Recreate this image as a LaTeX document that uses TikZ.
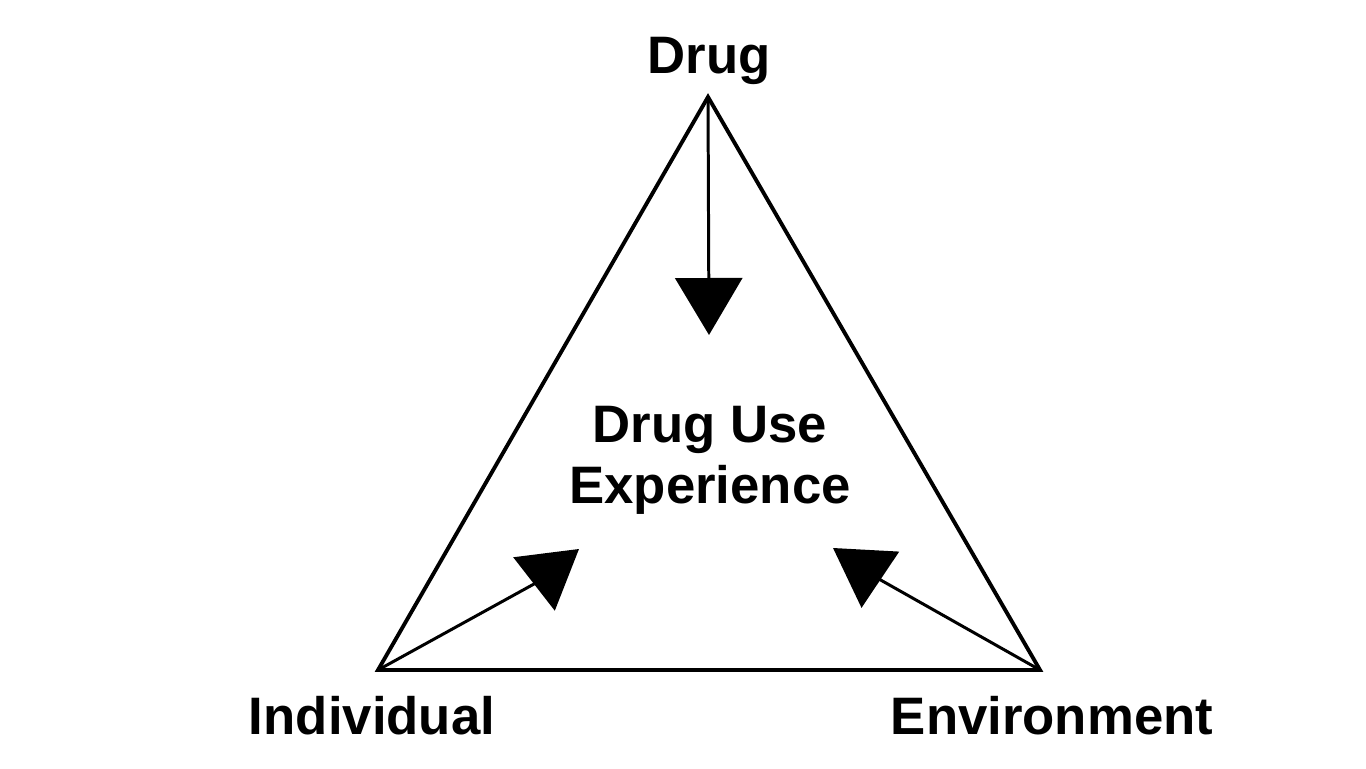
\documentclass[tikz,border=0pt]{standalone}
\usepackage{fontspec}
\setmainfont{Liberation Sans}
\usetikzlibrary{arrows.meta,positioning}

\begin{document}
\begin{tikzpicture}[outer sep=0pt,
    label/.style={font=\fontsize{15}{17.3}\selectfont\bfseries, align=center},
    influence/.style={line width=0.85pt, -{Triangle[length=0.57cm,width=0.67cm]}}]
        \useasboundingbox (0,0) rectangle (13.66,7.68);
        \coordinate (Top) at (7.08,6.71);
        \coordinate (Left) at (3.78,0.98);
        \coordinate (Right) at (10.40,0.98);
        \draw [line width=1.1pt, line join=miter] (Top) -- (Left) -- (Right) -- cycle;

        \node [label] (Drug) at (7.09,7.07) {Drug};
        \node [label] (Indiv) at (3.72,0.52) {Individual};
        \node [label] (Env) at (10.52,0.52) {Environment};
        \node [label] (Exp) at (7.10,3.08) {Drug Use\\ Experience};

        \coordinate (TipTop) at (7.09,4.33);
        \coordinate (BaseLeft) at (5.34,1.84);
        \coordinate (TipLeft) at (5.79,2.19);
        \coordinate (BaseRight) at (8.815,1.875);
        \coordinate (TipRight) at (8.33,2.20);
        \draw [influence] (Top) -- (TipTop);
        \draw [influence] (Left) -- (BaseLeft) -- (TipLeft);
        \draw [influence] (Right) -- (BaseRight) -- (TipRight);
    \end{tikzpicture}
\end{document}
